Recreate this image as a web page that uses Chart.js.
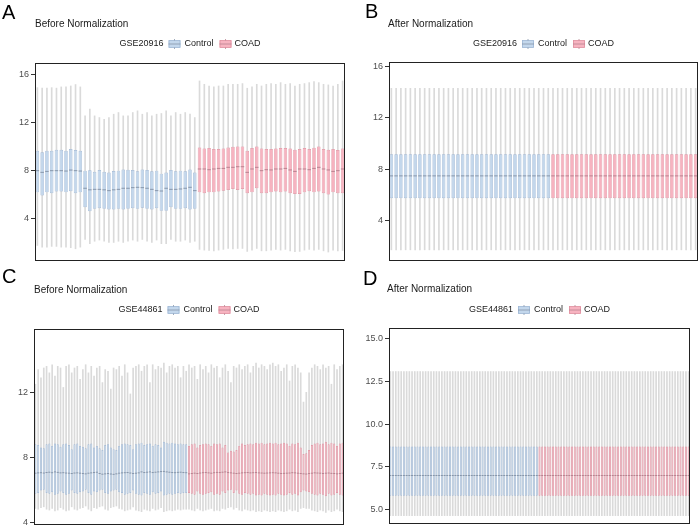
<!DOCTYPE html>
<html>
<head>
<meta charset="utf-8">
<script src="https://cdn.jsdelivr.net/npm/chart.js@4.4.1/dist/chart.umd.min.js"></script>
<style>
  body { margin: 0; background: #fff; }
  #wrap { position: relative; width: 700px; height: 527px; overflow: hidden; }
  .panel { position: absolute; }
</style>
</head>
<body>
<div id="wrap">
  <div class="panel" style="left:0;top:0;width:350px;height:262px"><canvas id="cA"></canvas></div>
  <div class="panel" style="left:350px;top:0;width:350px;height:262px"><canvas id="cB"></canvas></div>
  <div class="panel" style="left:0;top:262px;width:350px;height:265px"><canvas id="cC"></canvas></div>
  <div class="panel" style="left:350px;top:262px;width:350px;height:265px"><canvas id="cD"></canvas></div>
</div>
<script>
// ---- Panel A: GSE20916 before normalization (34 Control, 31 COAD) ----
const nControlA = 34;
const loA = [1.75, 1.61, 1.61, 1.67, 1.67, 1.61, 1.61, 1.56, 1.47, 1.61,
  2.25, 1.9, 2.1, 2.2, 2.1, 2.0, 2.0, 2.1, 2.0, 2.1, 2.2, 2.1, 2.25, 2.1, 2.0, 2.2, 1.9, 1.9, 2.25, 2.1, 2.1, 2.2, 2.0, 2.1,
  1.42, 1.36, 1.33, 1.3, 1.36, 1.42, 1.5, 1.47, 1.5, 1.5, 1.25, 1.36, 1.5, 1.3, 1.3, 1.36,
  1.42, 1.36, 1.42, 1.3, 1.22, 1.25, 1.36, 1.42, 1.36, 1.42, 1.3, 1.2, 1.36, 1.3, 1.33];
const q1A = [6.19, 5.92, 6.19, 6.11, 6.25, 6.25, 6.19, 6.28, 6.11, 6.19,
  4.94, 4.61, 4.81, 4.86, 4.81, 4.75, 4.75, 4.81, 4.75, 4.81, 4.86, 4.81, 4.9, 4.81, 4.75, 4.86, 4.64, 4.64, 4.94, 4.81, 4.81, 4.86, 4.75, 4.81,
  6.19, 6.11, 6.19, 6.19, 6.25, 6.33, 6.39, 6.47, 6.39, 6.47, 6.11, 6.19, 6.53, 6.11, 6.11, 6.19,
  6.25, 6.19, 6.25, 6.11, 6.06, 6.06, 6.19, 6.28, 6.19, 6.25, 6.11, 6.0, 6.19, 6.11, 6.11];
const medA = [8.0, 7.86, 7.94, 8.0, 8.0, 8.0, 7.97, 8.05, 8.0, 7.97,
  6.53, 6.4, 6.44, 6.44, 6.4, 6.33, 6.4, 6.44, 6.53, 6.53, 6.58, 6.61, 6.58, 6.53, 6.44, 6.33, 6.3, 6.53, 6.44, 6.44, 6.47, 6.53, 6.61, 6.33,
  8.14, 8.14, 8.08, 8.14, 8.19, 8.19, 8.28, 8.28, 8.33, 8.33, 7.86, 8.14, 8.28, 8.0, 8.08, 8.06,
  8.14, 8.14, 8.19, 8.06, 7.94, 8.14, 8.14, 8.08, 8.19, 8.28, 8.14, 8.06, 7.94, 8.0, 8.14];
const q3A = [9.67, 9.53, 9.67, 9.67, 9.75, 9.75, 9.67, 9.81, 9.72, 9.67,
  8.0, 8.03, 7.9, 8.05, 7.9, 7.85, 7.97, 8.0, 8.1, 8.08, 8.05, 7.95, 8.1, 8.05, 7.95, 8.0, 7.75, 7.85, 8.05, 7.95, 8.0, 7.95, 8.1, 7.85,
  9.94, 9.86, 9.89, 9.81, 9.81, 9.86, 9.94, 10.0, 10.03, 10.03, 9.67, 9.89, 10.03, 9.86, 9.81, 9.81,
  9.86, 9.89, 9.89, 9.86, 9.75, 9.81, 9.89, 9.81, 9.92, 10.03, 9.81, 9.75, 9.81, 9.72, 9.86];
const hiA = [14.94, 14.9, 14.9, 14.94, 14.9, 15.0, 15.0, 15.08, 15.2, 15.0,
  12.58, 13.14, 12.58, 12.44, 12.3, 12.44, 12.72, 12.86, 12.58, 12.58, 12.86, 13.0, 12.72, 12.86, 12.58, 12.72, 12.78, 13.0, 12.58, 12.86, 12.72, 12.86, 12.72, 12.44,
  15.5, 15.22, 15.08, 15.0, 15.08, 15.08, 15.22, 15.22, 15.22, 15.28, 14.89, 15.0, 15.22, 15.08, 15.22, 15.28,
  15.22, 15.36, 15.22, 15.28, 15.08, 15.22, 15.28, 15.36, 15.44, 15.36, 15.22, 15.17, 15.08, 15.22, 15.5];
const ticksA = [4, 8, 12, 16];

// ---- Panel B: GSE20916 after normalization (every sample identical) ----
const nControlB = 34;
const loB = [1.72, 1.72, 1.72, 1.72, 1.72, 1.72, 1.72, 1.72, 1.72, 1.72, 1.72, 1.72, 1.72,
  1.72, 1.72, 1.72, 1.72, 1.72, 1.72, 1.72, 1.72, 1.72, 1.72, 1.72, 1.72, 1.72,
  1.72, 1.72, 1.72, 1.72, 1.72, 1.72, 1.72, 1.72, 1.72, 1.72, 1.72, 1.72, 1.72,
  1.72, 1.72, 1.72, 1.72, 1.72, 1.72, 1.72, 1.72, 1.72, 1.72, 1.72, 1.72, 1.72,
  1.72, 1.72, 1.72, 1.72, 1.72, 1.72, 1.72, 1.72, 1.72, 1.72, 1.72, 1.72, 1.72];
const q1B = [5.74, 5.74, 5.74, 5.74, 5.74, 5.74, 5.74, 5.74, 5.74, 5.74, 5.74, 5.74, 5.74,
  5.74, 5.74, 5.74, 5.74, 5.74, 5.74, 5.74, 5.74, 5.74, 5.74, 5.74, 5.74, 5.74,
  5.74, 5.74, 5.74, 5.74, 5.74, 5.74, 5.74, 5.74, 5.74, 5.74, 5.74, 5.74, 5.74,
  5.74, 5.74, 5.74, 5.74, 5.74, 5.74, 5.74, 5.74, 5.74, 5.74, 5.74, 5.74, 5.74,
  5.74, 5.74, 5.74, 5.74, 5.74, 5.74, 5.74, 5.74, 5.74, 5.74, 5.74, 5.74, 5.74];
const medB = [7.48, 7.48, 7.48, 7.48, 7.48, 7.48, 7.48, 7.48, 7.48, 7.48, 7.48, 7.48, 7.48,
  7.48, 7.48, 7.48, 7.48, 7.48, 7.48, 7.48, 7.48, 7.48, 7.48, 7.48, 7.48, 7.48,
  7.48, 7.48, 7.48, 7.48, 7.48, 7.48, 7.48, 7.48, 7.48, 7.48, 7.48, 7.48, 7.48,
  7.48, 7.48, 7.48, 7.48, 7.48, 7.48, 7.48, 7.48, 7.48, 7.48, 7.48, 7.48, 7.48,
  7.48, 7.48, 7.48, 7.48, 7.48, 7.48, 7.48, 7.48, 7.48, 7.48, 7.48, 7.48, 7.48];
const q3B = [9.17, 9.17, 9.17, 9.17, 9.17, 9.17, 9.17, 9.17, 9.17, 9.17, 9.17, 9.17, 9.17,
  9.17, 9.17, 9.17, 9.17, 9.17, 9.17, 9.17, 9.17, 9.17, 9.17, 9.17, 9.17, 9.17,
  9.17, 9.17, 9.17, 9.17, 9.17, 9.17, 9.17, 9.17, 9.17, 9.17, 9.17, 9.17, 9.17,
  9.17, 9.17, 9.17, 9.17, 9.17, 9.17, 9.17, 9.17, 9.17, 9.17, 9.17, 9.17, 9.17,
  9.17, 9.17, 9.17, 9.17, 9.17, 9.17, 9.17, 9.17, 9.17, 9.17, 9.17, 9.17, 9.17];
const hiB = [14.3, 14.3, 14.3, 14.3, 14.3, 14.3, 14.3, 14.3, 14.3, 14.3, 14.3, 14.3, 14.3,
  14.3, 14.3, 14.3, 14.3, 14.3, 14.3, 14.3, 14.3, 14.3, 14.3, 14.3, 14.3, 14.3,
  14.3, 14.3, 14.3, 14.3, 14.3, 14.3, 14.3, 14.3, 14.3, 14.3, 14.3, 14.3, 14.3,
  14.3, 14.3, 14.3, 14.3, 14.3, 14.3, 14.3, 14.3, 14.3, 14.3, 14.3, 14.3, 14.3,
  14.3, 14.3, 14.3, 14.3, 14.3, 14.3, 14.3, 14.3, 14.3, 14.3, 14.3, 14.3, 14.3];
const ticksB = [4, 8, 12, 16];

// ---- Panel C: GSE44861 before normalization (55 Control, 56 COAD) ----
const nControlC = 55;
const loC = [4.85, 4.8, 4.9, 4.95, 4.8, 4.75, 4.85, 4.7, 4.75, 4.9,
  4.8, 4.7, 4.75, 4.95, 4.8, 4.75, 4.85, 4.9, 5.0, 4.8,
  4.7, 4.9, 4.85, 4.95, 5.0, 4.8, 4.75, 4.9, 4.95, 5.0,
  4.85, 4.8, 4.7, 4.75, 4.8, 4.95, 4.75, 4.7, 4.65, 4.8,
  4.75, 4.7, 4.85, 4.75, 4.8, 4.9, 4.65, 4.7, 4.75, 4.7,
  4.75, 4.8, 4.75, 4.8, 4.8,
  4.8, 4.75, 4.7, 4.85, 4.75, 4.7, 4.75, 4.8, 4.85, 4.7,
  4.75, 4.7, 4.85, 4.8, 4.9, 4.95, 4.8, 4.9, 4.75, 4.7,
  4.8, 4.75, 4.7, 4.75, 4.65, 4.7, 4.65, 4.75, 4.7, 4.65,
  4.7, 4.65, 4.75, 4.7, 4.65, 4.7, 4.8, 4.7, 4.75, 4.65,
  4.85, 4.9, 4.85, 4.85, 4.75, 4.7, 4.65, 4.75, 4.7, 4.6,
  4.75, 4.65, 4.7, 4.8, 4.7, 4.65];
const q1C = [5.75, 5.8, 5.95, 6.0, 5.8, 5.75, 5.85, 5.7, 5.75, 5.9,
  5.8, 5.7, 5.75, 5.95, 5.8, 5.75, 5.85, 5.9, 6.0, 5.8,
  5.7, 5.9, 5.85, 5.95, 6.0, 5.8, 5.75, 5.9, 5.95, 6.0,
  5.85, 5.8, 5.7, 5.75, 5.8, 5.95, 5.75, 5.7, 5.65, 5.8,
  5.75, 5.7, 5.85, 5.75, 5.8, 5.9, 5.65, 5.7, 5.75, 5.7,
  5.75, 5.8, 5.75, 5.8, 5.8,
  5.8, 5.75, 5.7, 5.9, 5.75, 5.7, 5.75, 5.8, 5.85, 5.7,
  5.75, 5.7, 5.9, 5.8, 5.95, 6.0, 5.8, 5.95, 5.75, 5.7,
  5.8, 5.75, 5.7, 5.75, 5.65, 5.7, 5.65, 5.75, 5.7, 5.65,
  5.7, 5.65, 5.75, 5.7, 5.65, 5.7, 5.8, 5.7, 5.75, 5.65,
  5.85, 5.95, 5.9, 5.85, 5.75, 5.7, 5.65, 5.75, 5.7, 5.6,
  5.75, 5.65, 5.7, 5.8, 5.7, 5.65];
const medC = [7.02, 7.04, 7.05, 7.03, 7.06, 7.08, 7.05, 7.1, 7.07, 7.04,
  7.05, 7.03, 7.02, 7.0, 7.03, 7.04, 7.02, 7.0, 6.98, 7.02,
  7.04, 7.06, 7.08, 7.0, 6.96, 6.98, 7.0, 6.97, 6.95, 6.98,
  7.02, 7.04, 7.05, 7.06, 7.03, 7.0, 7.02, 7.04, 7.1, 7.06,
  7.08, 7.1, 7.06, 7.08, 7.1, 7.12, 7.13, 7.1, 7.08, 7.06,
  7.05, 7.07, 7.08, 7.06, 7.05,
  6.98, 7.0, 7.02, 7.0, 7.03, 7.05, 7.06, 7.04, 7.02, 7.05,
  7.07, 7.06, 7.08, 7.1, 7.06, 7.04, 7.02, 7.0, 7.02, 7.04,
  7.05, 7.06, 7.04, 7.05, 7.06, 7.04, 7.03, 7.02, 7.03, 7.04,
  7.05, 7.04, 7.02, 7.0, 7.01, 7.02, 7.03, 7.05, 7.04, 7.02,
  7.0, 6.98, 6.97, 7.0, 7.02, 7.04, 7.03, 7.02, 7.0, 7.02,
  7.03, 7.01, 7.0, 6.98, 7.0, 7.02];
const q3C = [8.8, 8.75, 8.6, 8.55, 8.8, 8.85, 8.7, 8.85, 8.8, 8.65,
  8.8, 8.85, 8.75, 8.5, 8.8, 8.85, 8.7, 8.65, 8.55, 8.8,
  8.85, 8.6, 8.7, 8.55, 8.45, 8.75, 8.8, 8.6, 8.5, 8.45,
  8.7, 8.8, 8.85, 8.8, 8.75, 8.5, 8.8, 8.85, 8.9, 8.75,
  8.8, 8.85, 8.7, 8.8, 8.75, 8.6, 8.95, 8.9, 8.85, 8.9,
  8.85, 8.8, 8.85, 8.8, 8.8,
  8.7, 8.8, 8.85, 8.6, 8.75, 8.8, 8.85, 8.8, 8.7, 8.85,
  8.8, 8.85, 8.6, 8.75, 8.3, 8.4, 8.35, 8.45, 8.7, 8.85,
  8.75, 8.8, 8.85, 8.8, 8.9, 8.85, 8.9, 8.8, 8.85, 8.9,
  8.85, 8.9, 8.8, 8.85, 8.9, 8.85, 8.7, 8.85, 8.8, 8.9,
  8.6, 8.2, 8.25, 8.45, 8.75, 8.85, 8.9, 8.8, 8.85, 8.95,
  8.8, 8.9, 8.85, 8.7, 8.85, 8.9];
const hiC = [12.5, 13.4, 12.9, 13.5, 13.6, 13.2, 13.7, 13.0, 13.6, 13.5,
  12.3, 13.6, 13.7, 13.2, 13.5, 13.6, 12.8, 13.4, 13.7, 13.2,
  13.6, 13.0, 13.5, 13.6, 12.6, 13.4, 13.3, 12.2, 13.5, 13.4,
  13.6, 13.0, 13.7, 13.2, 11.9, 13.5, 13.6, 13.7, 13.3, 13.6,
  13.7, 12.6, 13.7, 13.4, 13.6, 13.5, 13.8, 13.2, 13.6, 13.7,
  13.5, 13.6, 12.9, 13.6, 13.3,
  13.7, 13.5, 13.6, 12.8, 13.7, 13.4, 13.6, 13.2, 13.7, 13.5,
  13.6, 12.9, 13.5, 13.7, 13.3, 12.6, 13.6, 13.5, 13.7, 13.4,
  13.6, 13.7, 13.2, 13.6, 13.8, 13.5, 13.7, 13.6, 13.4, 13.7,
  13.8, 13.6, 13.7, 13.3, 13.5, 13.7, 12.7, 13.6, 13.7, 13.5,
  13.2, 11.4, 12.0, 13.2, 13.5, 13.7, 13.6, 13.4, 13.7, 13.5,
  13.6, 12.5, 13.7, 13.4, 13.6, 13.7];
const ticksC = [4, 8, 12];

// ---- Panel D: GSE44861 after normalization (every sample identical) ----
const nControlD = 55;
const loD = [4.65, 4.65, 4.65, 4.65, 4.65, 4.65, 4.65, 4.65, 4.65, 4.65,
  4.65, 4.65, 4.65, 4.65, 4.65, 4.65, 4.65, 4.65, 4.65, 4.65,
  4.65, 4.65, 4.65, 4.65, 4.65, 4.65, 4.65, 4.65, 4.65, 4.65,
  4.65, 4.65, 4.65, 4.65, 4.65, 4.65, 4.65, 4.65, 4.65, 4.65,
  4.65, 4.65, 4.65, 4.65, 4.65, 4.65, 4.65, 4.65, 4.65, 4.65,
  4.65, 4.65, 4.65, 4.65, 4.65, 4.65, 4.65, 4.65, 4.65, 4.65,
  4.65, 4.65, 4.65, 4.65, 4.65, 4.65, 4.65, 4.65, 4.65, 4.65,
  4.65, 4.65, 4.65, 4.65, 4.65, 4.65, 4.65, 4.65, 4.65, 4.65,
  4.65, 4.65, 4.65, 4.65, 4.65, 4.65, 4.65, 4.65, 4.65, 4.65,
  4.65, 4.65, 4.65, 4.65, 4.65, 4.65, 4.65, 4.65, 4.65, 4.65,
  4.65, 4.65, 4.65, 4.65, 4.65, 4.65, 4.65, 4.65, 4.65, 4.65, 4.65];
const q1D = [5.82, 5.82, 5.82, 5.82, 5.82, 5.82, 5.82, 5.82, 5.82, 5.82,
  5.82, 5.82, 5.82, 5.82, 5.82, 5.82, 5.82, 5.82, 5.82, 5.82,
  5.82, 5.82, 5.82, 5.82, 5.82, 5.82, 5.82, 5.82, 5.82, 5.82,
  5.82, 5.82, 5.82, 5.82, 5.82, 5.82, 5.82, 5.82, 5.82, 5.82,
  5.82, 5.82, 5.82, 5.82, 5.82, 5.82, 5.82, 5.82, 5.82, 5.82,
  5.82, 5.82, 5.82, 5.82, 5.82, 5.82, 5.82, 5.82, 5.82, 5.82,
  5.82, 5.82, 5.82, 5.82, 5.82, 5.82, 5.82, 5.82, 5.82, 5.82,
  5.82, 5.82, 5.82, 5.82, 5.82, 5.82, 5.82, 5.82, 5.82, 5.82,
  5.82, 5.82, 5.82, 5.82, 5.82, 5.82, 5.82, 5.82, 5.82, 5.82,
  5.82, 5.82, 5.82, 5.82, 5.82, 5.82, 5.82, 5.82, 5.82, 5.82,
  5.82, 5.82, 5.82, 5.82, 5.82, 5.82, 5.82, 5.82, 5.82, 5.82, 5.82];
const medD = [7.0, 7.0, 7.0, 7.0, 7.0, 7.0, 7.0, 7.0, 7.0, 7.0,
  7.0, 7.0, 7.0, 7.0, 7.0, 7.0, 7.0, 7.0, 7.0, 7.0,
  7.0, 7.0, 7.0, 7.0, 7.0, 7.0, 7.0, 7.0, 7.0, 7.0,
  7.0, 7.0, 7.0, 7.0, 7.0, 7.0, 7.0, 7.0, 7.0, 7.0,
  7.0, 7.0, 7.0, 7.0, 7.0, 7.0, 7.0, 7.0, 7.0, 7.0,
  7.0, 7.0, 7.0, 7.0, 7.0, 7.0, 7.0, 7.0, 7.0, 7.0,
  7.0, 7.0, 7.0, 7.0, 7.0, 7.0, 7.0, 7.0, 7.0, 7.0,
  7.0, 7.0, 7.0, 7.0, 7.0, 7.0, 7.0, 7.0, 7.0, 7.0,
  7.0, 7.0, 7.0, 7.0, 7.0, 7.0, 7.0, 7.0, 7.0, 7.0,
  7.0, 7.0, 7.0, 7.0, 7.0, 7.0, 7.0, 7.0, 7.0, 7.0,
  7.0, 7.0, 7.0, 7.0, 7.0, 7.0, 7.0, 7.0, 7.0, 7.0, 7.0];
const q3D = [8.7, 8.7, 8.7, 8.7, 8.7, 8.7, 8.7, 8.7, 8.7, 8.7,
  8.7, 8.7, 8.7, 8.7, 8.7, 8.7, 8.7, 8.7, 8.7, 8.7,
  8.7, 8.7, 8.7, 8.7, 8.7, 8.7, 8.7, 8.7, 8.7, 8.7,
  8.7, 8.7, 8.7, 8.7, 8.7, 8.7, 8.7, 8.7, 8.7, 8.7,
  8.7, 8.7, 8.7, 8.7, 8.7, 8.7, 8.7, 8.7, 8.7, 8.7,
  8.7, 8.7, 8.7, 8.7, 8.7, 8.7, 8.7, 8.7, 8.7, 8.7,
  8.7, 8.7, 8.7, 8.7, 8.7, 8.7, 8.7, 8.7, 8.7, 8.7,
  8.7, 8.7, 8.7, 8.7, 8.7, 8.7, 8.7, 8.7, 8.7, 8.7,
  8.7, 8.7, 8.7, 8.7, 8.7, 8.7, 8.7, 8.7, 8.7, 8.7,
  8.7, 8.7, 8.7, 8.7, 8.7, 8.7, 8.7, 8.7, 8.7, 8.7,
  8.7, 8.7, 8.7, 8.7, 8.7, 8.7, 8.7, 8.7, 8.7, 8.7, 8.7];
const hiD = [13.09, 13.09, 13.09, 13.09, 13.09, 13.09, 13.09, 13.09, 13.09, 13.09,
  13.09, 13.09, 13.09, 13.09, 13.09, 13.09, 13.09, 13.09, 13.09, 13.09,
  13.09, 13.09, 13.09, 13.09, 13.09, 13.09, 13.09, 13.09, 13.09, 13.09,
  13.09, 13.09, 13.09, 13.09, 13.09, 13.09, 13.09, 13.09, 13.09, 13.09,
  13.09, 13.09, 13.09, 13.09, 13.09, 13.09, 13.09, 13.09, 13.09, 13.09,
  13.09, 13.09, 13.09, 13.09, 13.09, 13.09, 13.09, 13.09, 13.09, 13.09,
  13.09, 13.09, 13.09, 13.09, 13.09, 13.09, 13.09, 13.09, 13.09, 13.09,
  13.09, 13.09, 13.09, 13.09, 13.09, 13.09, 13.09, 13.09, 13.09, 13.09,
  13.09, 13.09, 13.09, 13.09, 13.09, 13.09, 13.09, 13.09, 13.09, 13.09,
  13.09, 13.09, 13.09, 13.09, 13.09, 13.09, 13.09, 13.09, 13.09, 13.09,
  13.09, 13.09, 13.09, 13.09, 13.09, 13.09, 13.09, 13.09, 13.09, 13.09, 13.09];
const ticksD = [5, 7.5, 10, 12.5, 15];

const groupNames = ['Control', 'COAD'];
const FONT = "'Liberation Sans', Arial, Helvetica, sans-serif";

// fill / border / median colour per group
const fillCol = ['#c3d7ec', '#f7b3c0'];
const edgeCol = ['#9fb7d5', '#e0909f'];
const medCol = ['#8796aa', '#b88390'];
const whiskCol = '#dadada';

// draws panel letter, title, the GSE legend and the black frame
const panelDecor = {
  id: 'panelDecor',
  afterDatasetsDraw(chart, args, o) {
    const ctx = chart.ctx;
    const a = chart.chartArea;
    ctx.save();
    ctx.strokeStyle = '#222';
    ctx.lineWidth = 1;
    ctx.strokeRect(Math.round(a.left) + 0.5, Math.round(a.top) + 0.5,
      Math.round(a.right - a.left) - 1, Math.round(a.bottom - a.top) - 1);

    ctx.fillStyle = '#000';
    ctx.textBaseline = 'alphabetic';
    ctx.font = '20px ' + FONT;
    ctx.fillText(o.letter, o.lx, o.ly);
    ctx.fillStyle = '#1a1a1a';
    ctx.font = '10px ' + FONT;
    ctx.fillText(o.title, o.tx, o.ty);

    // legend row
    ctx.font = '9px ' + FONT;
    const iconW = 12, iconH = 7;
    const wG = ctx.measureText(o.gse).width;
    const w1 = ctx.measureText(groupNames[0]).width;
    const w2 = ctx.measureText(groupNames[1]).width;
    const total = wG + 5 + iconW + 4 + w1 + 6 + iconW + 3 + w2;
    let x = (a.left + a.right) / 2 - total / 2;
    const y = o.legY;
    ctx.textBaseline = 'middle';
    ctx.fillText(o.gse, x, y);
    x += wG + 5;
    [0, 1].forEach(g => {
      ctx.fillStyle = fillCol[g];
      ctx.fillRect(x, y - iconH / 2, iconW, iconH);
      ctx.strokeStyle = edgeCol[g];
      ctx.lineWidth = 0.8;
      ctx.strokeRect(x + 0.5, y - iconH / 2, iconW - 1, iconH);
      ctx.beginPath();
      ctx.moveTo(x, y); ctx.lineTo(x + iconW, y);
      ctx.moveTo(x + iconW / 2, y - iconH / 2 - 1.5); ctx.lineTo(x + iconW / 2, y - iconH / 2);
      ctx.moveTo(x + iconW / 2, y + iconH / 2); ctx.lineTo(x + iconW / 2, y + iconH / 2 + 1.5);
      ctx.strokeStyle = medCol[g];
      ctx.stroke();
      x += iconW + (g === 0 ? 4 : 3);
      ctx.fillStyle = '#1a1a1a';
      ctx.fillText(groupNames[g], x, y);
      x += (g === 0 ? w1 + 6 : w2);
    });
    ctx.restore();
  }
};

function boxChart(id, lo, q1, med, q3, hi, nControl, yMin, yMax, ticks, area, decor, tickFmt) {
  const labels = q1.map((_, i) => 'S' + (i + 1));
  const grp = q1.map((_, i) => (i < nControl ? 0 : 1));
  const halfBox = c => {
    const ca = c.chart.chartArea;
    return ca ? (ca.right - ca.left) / labels.length * 0.37 : 1.5;
  };
  return new Chart(document.getElementById(id), {
    type: 'bar',
    data: {
      labels: labels,
      datasets: [
        {
          type: 'line',
          data: med,
          showLine: false,
          pointStyle: 'line',
          pointRadius: halfBox,
          pointHoverRadius: halfBox,
          pointBorderWidth: 1,
          pointBorderColor: grp.map(g => medCol[g]),
          order: 1
        },
        {
          data: q1.map((v, i) => [v, q3[i]]),
          backgroundColor: grp.map(g => fillCol[g]),
          borderColor: grp.map(g => edgeCol[g]),
          borderWidth: 0.7,
          borderSkipped: false,
          barPercentage: 0.74,
          categoryPercentage: 1,
          grouped: false,
          order: 2
        },
        {
          data: lo.map((v, i) => [v, hi[i]]),
          backgroundColor: whiskCol,
          barThickness: 1,
          grouped: false,
          order: 3
        }
      ]
    },
    options: {
      responsive: true,
      maintainAspectRatio: false,
      animation: false,
      events: [],
      layout: {
        autoPadding: false,
        padding: { left: 0, top: area.top, right: area.right, bottom: area.bottom }
      },
      plugins: {
        legend: { display: false },
        title: { display: false },
        tooltip: { enabled: false },
        panelDecor: decor
      },
      scales: {
        x: { display: false, offset: true },
        y: {
          min: yMin,
          max: yMax,
          border: { display: false },
          grid: { drawOnChartArea: false, drawTicks: true, tickLength: 4, tickColor: '#333', tickWidth: 1 },
          ticks: {
            color: '#4d4d4d',
            padding: 2,
            font: { family: FONT, size: 9 },
            callback: v => (tickFmt ? tickFmt(v) : String(v))
          },
          afterBuildTicks: s => { s.ticks = ticks.map(v => ({ value: v })); },
          afterFit: s => {
            s.width = area.left;
            s.paddingTop = 0;
            s.paddingBottom = 0;
          }
        }
      }
    },
    plugins: [panelDecor]
  });
}

boxChart('cA', loA, q1A, medA, q3A, hiA, nControlA, 0.45, 17.0, ticksA,
  { left: 35, top: 63, right: 5, bottom: 1 },
  { letter: 'A', lx: 2, ly: 19, title: 'Before Normalization', tx: 35, ty: 27, gse: 'GSE20916', legY: 44 });
boxChart('cB', loB, q1B, medB, q3B, hiB, nControlB, 0.85, 16.35, ticksB,
  { left: 39, top: 62, right: 2, bottom: 1 },
  { letter: 'B', lx: 15, ly: 18, title: 'After Normalization', tx: 38, ty: 27, gse: 'GSE20916', legY: 44 });
boxChart('cC', loC, q1C, medC, q3C, hiC, nControlC, 3.83, 15.9, ticksC,
  { left: 34, top: 67, right: 6, bottom: 2 },
  { letter: 'C', lx: 2, ly: 21, title: 'Before Normalization', tx: 34, ty: 31, gse: 'GSE44861', legY: 48 });
boxChart('cD', loD, q1D, medD, q3D, hiD, nControlD, 4.16, 15.64, ticksD,
  { left: 39, top: 66, right: 10, bottom: 3 },
  { letter: 'D', lx: 13, ly: 23, title: 'After Normalization', tx: 37, ty: 30, gse: 'GSE44861', legY: 48 },
  v => v.toFixed(1));
</script>
</body>
</html>
